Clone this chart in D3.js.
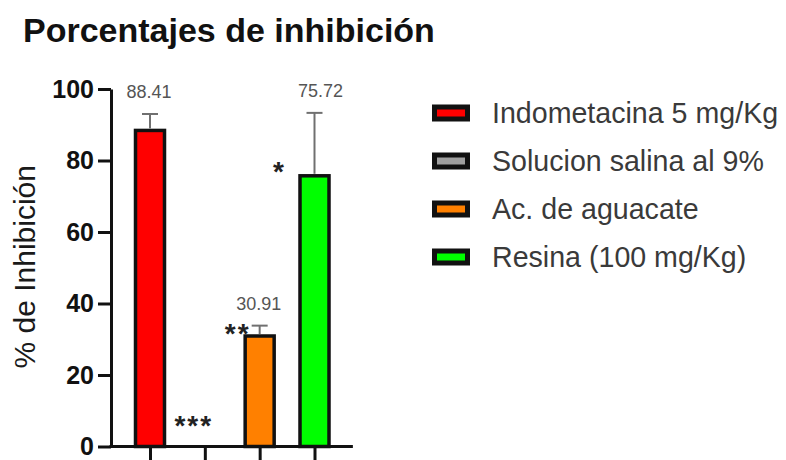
<!DOCTYPE html>
<html>
<head>
<meta charset="utf-8">
<script src="https://cdn.jsdelivr.net/npm/d3@7"></script>
<style>
  body { margin: 0; background: #fff; }
  text { font-family: "Liberation Sans", Arial, sans-serif; }
</style>
</head>
<body>
<div id="chart"></div>
<script>
const groups = ["Indometacina 5 mg/Kg", "Solucion salina al 9%", "Ac. de aguacate", "Resina (100 mg/Kg)"];
const means = [88.41, 0, 30.91, 75.72];
const errors = [4.6, 0, 2.9, 17.6];
const valueLabels = ["88.41", "", "30.91", "75.72"];
const stars = ["", "***", "**", "*"];
const starLevels = [0, 8, 33.8, 79];
const colors = ["#ff0000", "#a0a0a0", "#ff8000", "#00ff00"];
const yTicks = [0, 20, 40, 60, 80, 100];

const width = 786, height = 460;
const margin = { top: 89, left: 111, bottom: 14 };

const svg = d3.select("#chart").append("svg")
    .attr("width", width)
    .attr("height", height);

svg.append("text")
    .attr("x", 23)
    .attr("y", 42)
    .attr("font-size", 34)
    .attr("font-weight", "bold")
    .attr("fill", "#111")
    .text("Porcentajes de inhibición");

const y = d3.scaleLinear()
    .domain([0, 100])
    .range([446.5, margin.top]);

const x = d3.scalePoint()
    .domain(groups)
    .range([150, 314.5]);

const barW = 29;

// y axis
const yAxis = svg.append("g")
    .attr("transform", `translate(${margin.left},0)`)
    .call(d3.axisLeft(y).tickValues(yTicks).tickSize(13).tickSizeOuter(0).tickPadding(4));
yAxis.select(".domain").attr("stroke", "#111").attr("stroke-width", 3);
yAxis.selectAll(".tick line").attr("stroke", "#111").attr("stroke-width", 3);
yAxis.selectAll(".tick text")
    .attr("font-size", 25)
    .attr("font-weight", "bold")
    .attr("fill", "#111")
    .attr("font-family", "Liberation Sans, Arial, sans-serif");

svg.append("text")
    .attr("transform", `translate(35, ${(y(0) + y(100)) / 2 - 1}) rotate(-90)`)
    .attr("text-anchor", "middle")
    .attr("font-size", 30)
    .attr("fill", "#1a1a1a")
    .text("% de Inhibición");

// bars
svg.selectAll("rect.bar")
    .data(groups)
    .join("rect")
    .attr("class", "bar")
    .attr("x", d => x(d) - barW / 2)
    .attr("y", (d, i) => y(means[i]))
    .attr("width", barW)
    .attr("height", (d, i) => y(0) - y(means[i]))
    .attr("fill", (d, i) => colors[i])
    .attr("stroke", (d, i) => means[i] > 0 ? "#111" : "none")
    .attr("stroke-width", 3.5);

// error bars (upper only)
const err = svg.append("g").attr("stroke", "#707070").attr("stroke-width", 2);
groups.forEach((g, i) => {
    if (!errors[i]) return;
    err.append("line")
        .attr("x1", x(g)).attr("x2", x(g))
        .attr("y1", y(means[i]) - 2).attr("y2", y(means[i] + errors[i]));
    err.append("line")
        .attr("x1", x(g) - 8).attr("x2", x(g) + 8)
        .attr("y1", y(means[i] + errors[i])).attr("y2", y(means[i] + errors[i]));
});

// x axis
const xAxis = svg.append("g")
    .attr("transform", `translate(0,${y(0)})`)
    .call(d3.axisBottom(x).tickSize(16).tickSizeOuter(0).tickFormat(""));
xAxis.select(".domain").remove();
xAxis.selectAll(".tick line").attr("stroke", "#111").attr("stroke-width", 3);
svg.append("line")
    .attr("x1", margin.left - 1.5)
    .attr("x2", x(groups[3]) + x.step() * 0.7)
    .attr("y1", y(0)).attr("y2", y(0))
    .attr("stroke", "#111").attr("stroke-width", 3);

// value labels
svg.selectAll("text.val")
    .data(groups)
    .join("text")
    .attr("class", "val")
    .attr("x", (d, i) => x(d) + (i === 3 ? 6 : -1))
    .attr("y", (d, i) => y(means[i] + errors[i]) - 16)
    .attr("text-anchor", "middle")
    .attr("font-size", 18)
    .attr("fill", "#555")
    .text((d, i) => valueLabels[i]);

// significance stars
const starDx = [0, -11, -22, -35];
svg.selectAll("text.star")
    .data(groups)
    .join("text")
    .attr("class", "star")
    .attr("x", (d, i) => x(d) + starDx[i])
    .attr("y", (d, i) => y(starLevels[i]) + 17)
    .attr("text-anchor", "middle")
    .attr("font-size", 28)
    .attr("font-weight", "bold")
    .attr("letter-spacing", 2)
    .attr("fill", "#222")
    .text((d, i) => stars[i]);

// legend
const legend = svg.append("g").attr("transform", "translate(432,113)");
const rowH = 48;
groups.forEach((g, i) => {
    const row = legend.append("g").attr("transform", `translate(0,${i * rowH})`);
    row.append("rect")
        .attr("x", 2.5).attr("y", -6)
        .attr("width", 33).attr("height", 12)
        .attr("fill", colors[i])
        .attr("stroke", "#111")
        .attr("stroke-width", 5);
    row.append("text")
        .attr("x", 60)
        .attr("y", 10)
        .attr("font-size", 28.6)
        .attr("fill", "#3a3a3a")
        .text(g);
});
</script>
</body>
</html>
